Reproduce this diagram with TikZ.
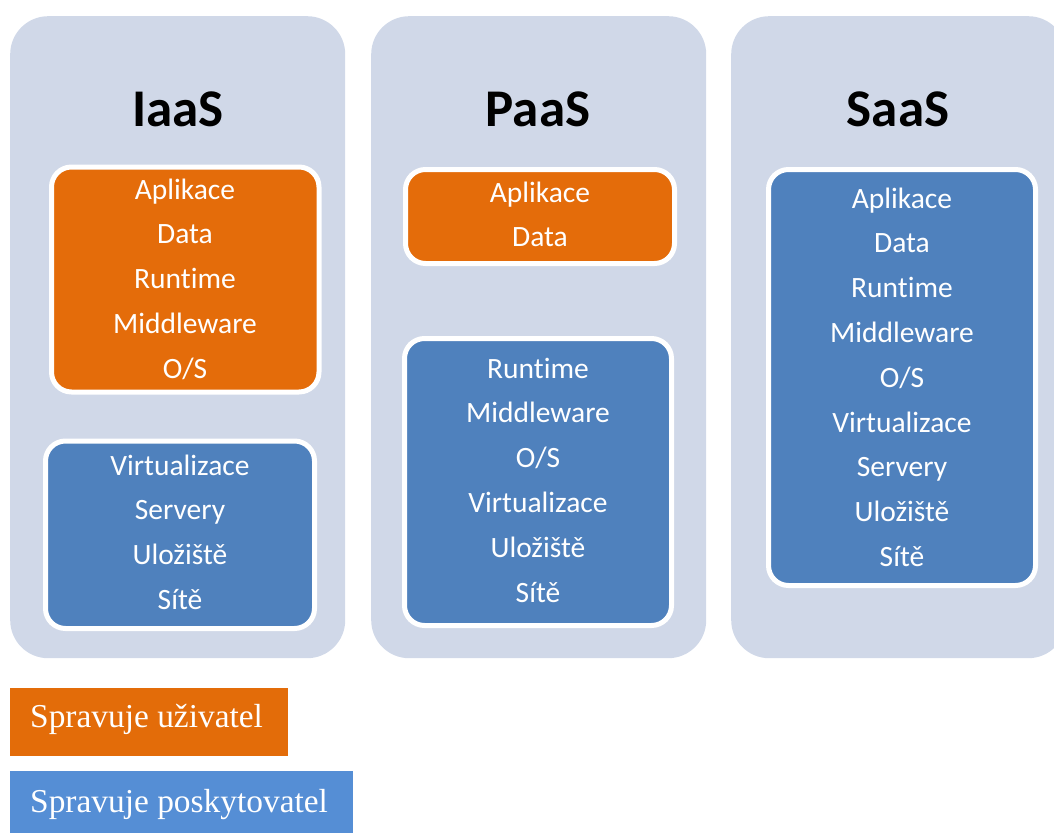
\documentclass[tikz,border=0pt]{standalone}
\usepackage{fontspec}
\newfontfamily\carl[Ligatures=NoCommon]{Carlito}
\newfontfamily\lser{Liberation Serif}
\definecolor{colbg}{HTML}{D0D8E8}
\definecolor{uorange}{HTML}{E46C0A}
\definecolor{pblue}{HTML}{4F81BD}
\definecolor{legblue}{HTML}{558ED5}
\definecolor{legorange}{HTML}{E36C09}
\tikzset{
  column/.style={fill=colbg, draw=none, rounded corners=38pt, inner sep=0pt, minimum width=335pt, minimum height=642pt, anchor=north west},
  ubox/.style={fill=uorange, draw=white, line width=5pt, rounded corners=20pt, inner sep=0pt},
  pbox/.style={fill=pblue, draw=white, line width=5pt, rounded corners=20pt, inner sep=0pt},
  item/.style={anchor=base, text=white, font=\carl\fontsize{29.5}{33}\selectfont, inner sep=0pt},
  ttl/.style={anchor=base, text=black, font=\carl\bfseries\fontsize{53}{58}\selectfont, inner sep=0pt},
  legbox/.style={draw=none, inner sep=0pt, anchor=north west},
  legtext/.style={anchor=base west, text=white, font=\lser\fontsize{33.4}{38}\selectfont, inner sep=0pt}
}
\begin{document}
\begin{tikzpicture}[x=1pt,y=-1pt]
\useasboundingbox (0,0) rectangle (1054,832);
\begin{scope}
\clip (0,0) rectangle (1054,832);
% columns
\node[column] (iaas) at (10,16) {};
\node[column] (paas) at (371,16) {};
\node[column] (saas) at (731,16) {};
% titles
\node[ttl] (tI) at (178,127) {IaaS};
\node[ttl] (tP) at (538,127) {PaaS};
\node[ttl] (tS) at (898,127) {SaaS};
% IaaS boxes
\node[ubox, minimum width=267.5pt, minimum height=225pt] (iU) at (185.25,279.5) {};
\node[pbox, minimum width=269pt, minimum height=187.5pt] (iP) at (180,534.75) {};
\foreach \t [count=\i] in {Aplikace,Data,Runtime,Middleware,O/S}
  \node[item] (iU\i) at (185,{199+44.8*(\i-1)}) {\t};
\foreach \t [count=\i] in {Virtualizace,Servery,Uložiště,Sítě}
  \node[item] (iP\i) at (180,{475+44.8*(\i-1)}) {\t};
% PaaS boxes
\node[ubox, minimum width=269pt, minimum height=94pt] (pU) at (540,216.5) {};
\node[pbox, minimum width=267pt, minimum height=287pt] (pP) at (538,482) {};
\foreach \t [count=\i] in {Aplikace,Data}
  \node[item] (pU\i) at (540,{202+44.8*(\i-1)}) {\t};
\foreach \t [count=\i] in {Runtime,Middleware,O/S,Virtualizace,Uložiště,Sítě}
  \node[item] (pP\i) at (538,{378+44.8*(\i-1)}) {\t};
% SaaS box
\node[pbox, minimum width=267pt, minimum height=416pt] (sP) at (902,377.5) {};
\foreach \t [count=\i] in {Aplikace,Data,Runtime,Middleware,O/S,Virtualizace,Servery,Uložiště,Sítě}
  \node[item] (sP\i) at (902,{208+44.8*(\i-1)}) {\t};
% legend
\node[legbox, fill=legorange, minimum width=278pt, minimum height=68pt] (legU) at (10,688) {};
\node[legtext] (legUt) at (30,727) {Spravuje uživatel};
\node[legbox, fill=legblue, minimum width=343pt, minimum height=70pt] (legP) at (10,771) {};
\node[legtext] (legPt) at (30,812) {Spravuje poskytovatel};
\end{scope}
\end{tikzpicture}
\end{document}
